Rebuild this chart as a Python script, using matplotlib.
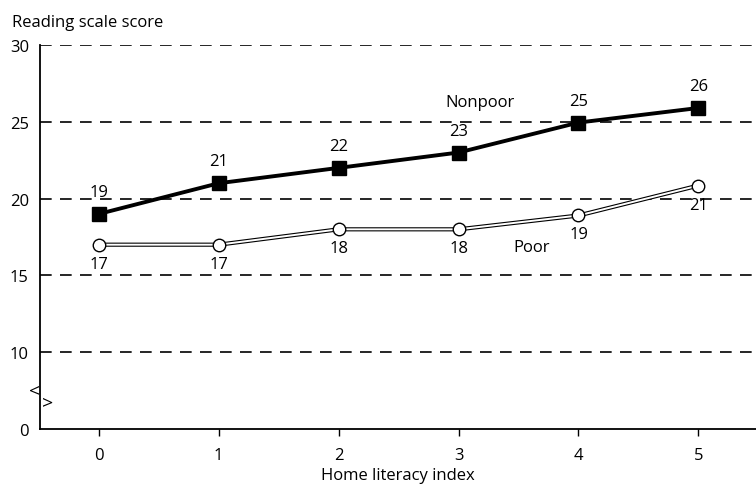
import matplotlib
matplotlib.use('Agg')
import matplotlib.pyplot as plt

plt.rcParams['font.family'] = ['Open Sans', 'DejaVu Sans']

# Data
literacy_index = [0, 1, 2, 3, 4, 5]
nonpoor_scores = [19.0, 21.0, 22.0, 23.0, 24.95, 25.9]
poor_scores = [17.0, 17.0, 18.0, 18.0, 18.9, 20.85]
nonpoor_labels = ['19', '21', '22', '23', '25', '26']
poor_labels = ['17', '17', '18', '18', '19', '21']

# y axis is broken: "0" sits where 5 would be
ytick_pos = [5, 10, 15, 20, 25, 30]
ytick_text = ['0', '10', '15', '20', '25', '30']

fs = 12

fig = plt.figure(figsize=(7.56, 4.85), dpi=100)
ax = fig.add_axes([40 / 756, 1 - 430 / 485, 1 - 40 / 756, 384 / 485])

for y in ytick_pos[1:]:
    ax.axhline(y, color='black', lw=1.2, ls=(0, (7, 5)), zorder=1)

# Nonpoor line
ax.plot(literacy_index, nonpoor_scores, color='black', lw=2.8, marker='s',
        markersize=9.5, markerfacecolor='black', markeredgecolor='black', zorder=4)

# Poor line: double line with open circles
ax.plot(literacy_index, poor_scores, color='black', lw=3.0, zorder=3)
ax.plot(literacy_index, poor_scores, color='white', lw=1.4, marker='o',
        markersize=9, markerfacecolor='white', markeredgecolor='black',
        markeredgewidth=1.0, zorder=3.5)

for x, y, t in zip(literacy_index, nonpoor_scores, nonpoor_labels):
    ax.annotate(t, (x, y), xytext=(0, 22), textcoords='offset pixels',
                ha='center', va='center', fontsize=fs)
for x, y, t in zip(literacy_index, poor_scores, poor_labels):
    ax.annotate(t, (x, y), xytext=(0, -19), textcoords='offset pixels',
                ha='center', va='center', fontsize=fs)

ax.text(3.175, 26.3, 'Nonpoor', ha='center', va='center', fontsize=fs)
ax.text(3.61, 16.85, 'Poor', ha='center', va='center', fontsize=fs)

ax.set_xlim(-0.49, 5.48)
ax.set_ylim(5, 30)
ax.set_xticks(literacy_index)
ax.set_yticks(ytick_pos)
ax.set_yticklabels(ytick_text)
ax.tick_params(axis='y', length=0, pad=8, labelsize=fs)
ax.tick_params(axis='x', length=5, width=1, pad=8, labelsize=fs)

ax.spines['top'].set_visible(False)
ax.spines['right'].set_visible(False)
ax.spines['left'].set_linewidth(1.3)
ax.spines['bottom'].set_linewidth(1.3)

# axis break marks
ax.text(-0.533, 7.55, '<', ha='center', va='center', fontsize=14, clip_on=False)
ax.text(-0.425, 6.75, '>', ha='center', va='center', fontsize=14, clip_on=False)

ax.set_xlabel('Home literacy index', fontsize=fs, labelpad=3)
fig.text(12 / 756, 1 - 23 / 485, 'Reading scale score', ha='left', va='center', fontsize=fs)

fig.savefig('out.png', dpi=100)
